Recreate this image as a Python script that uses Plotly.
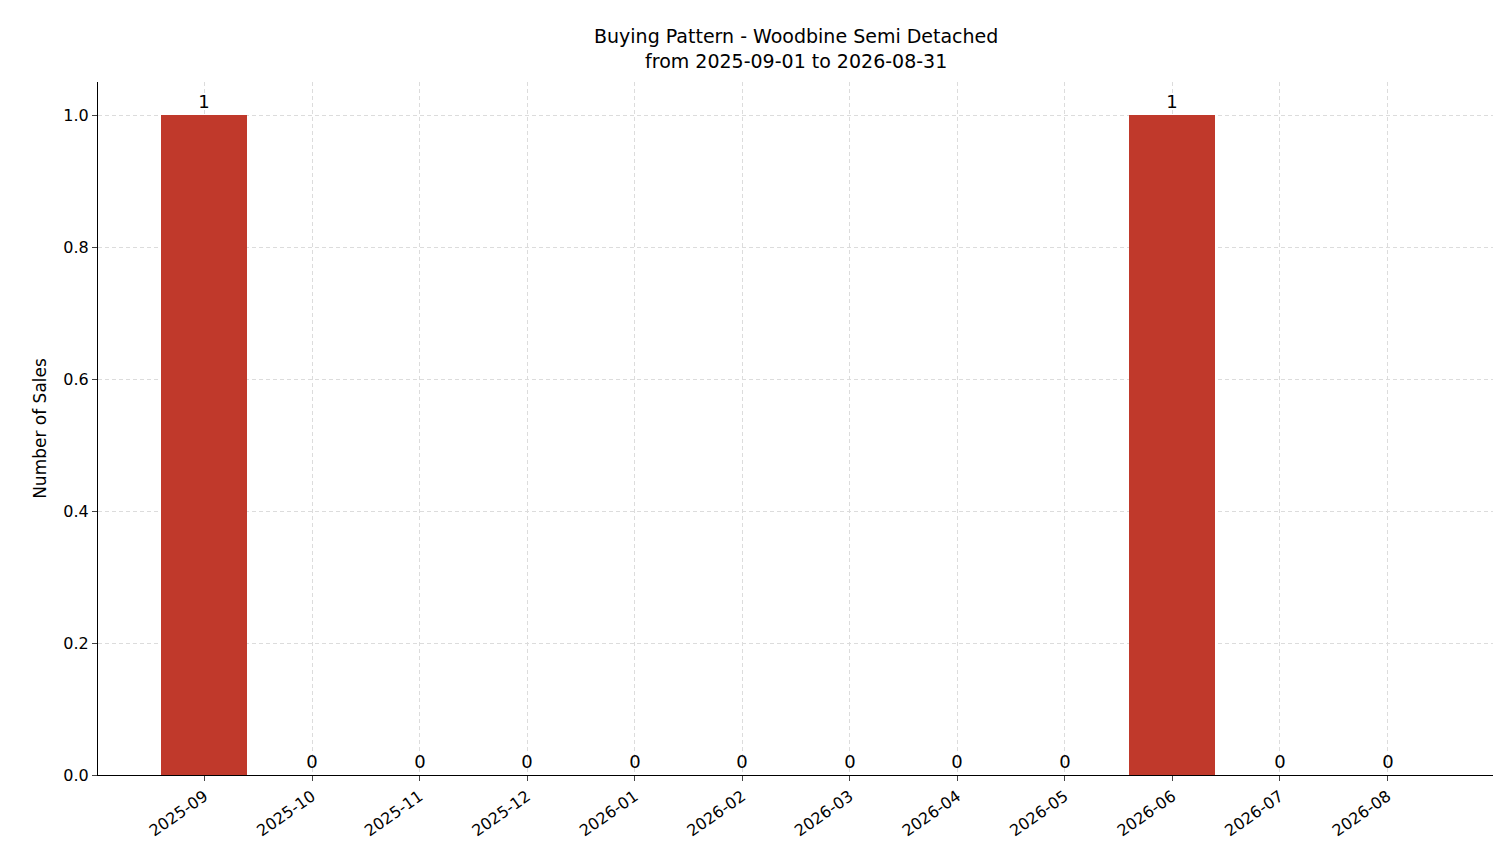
import plotly.graph_objects as go

months = ["2025-09","2025-10","2025-11","2025-12","2026-01","2026-02",
          "2026-03","2026-04","2026-05","2026-06","2026-07","2026-08"]
sales = [1,0,0,0,0,0,0,0,0,1,0,0]

fig = go.Figure(go.Bar(
    x=list(range(len(months))), y=sales, width=0.8,
    marker=dict(color="#c0392b", line=dict(width=0)), text=[str(v) for v in sales],
    textposition="outside", textfont=dict(size=18, color="black"),
    cliponaxis=False))

grid = dict(showgrid=True, gridcolor="#dcdcdc", griddash="4px,3px", gridwidth=0.8)
fig.update_layout(
    width=1501, height=863, plot_bgcolor="white", paper_bgcolor="white",
    font=dict(family="DejaVu Sans", size=16, color="black"),
    margin=dict(l=90, r=15, t=74, b=96, autoexpand=False),
    annotations=[dict(text="Buying Pattern - Woodbine Semi Detached<br>from 2025-09-01 to 2026-08-31",
                      xref="paper", yref="paper", x=0.5, y=1.0, yshift=8, xanchor="center",
                      yanchor="bottom", showarrow=False, font=dict(size=19))],
    xaxis=dict(tickmode="array", tickvals=list(range(len(months))), ticktext=months,
               range=[-0.99, 11.99], tickangle=-35, ticks="outside", ticklen=5,
               showline=True, linecolor="black", zeroline=False, automargin=False, **grid),
    yaxis=dict(range=[0, 1.05], tickvals=[0,0.2,0.4,0.6,0.8,1.0],
               ticktext=["0.0","0.2","0.4","0.6","0.8","1.0"], ticks="outside", ticklen=5,
               showline=True, linecolor="black", zeroline=False, automargin=False,
               title=dict(text="Number of Sales", font=dict(size=17), standoff=12), **grid),
    bargap=0,
)
fig.write_html("out.html")
